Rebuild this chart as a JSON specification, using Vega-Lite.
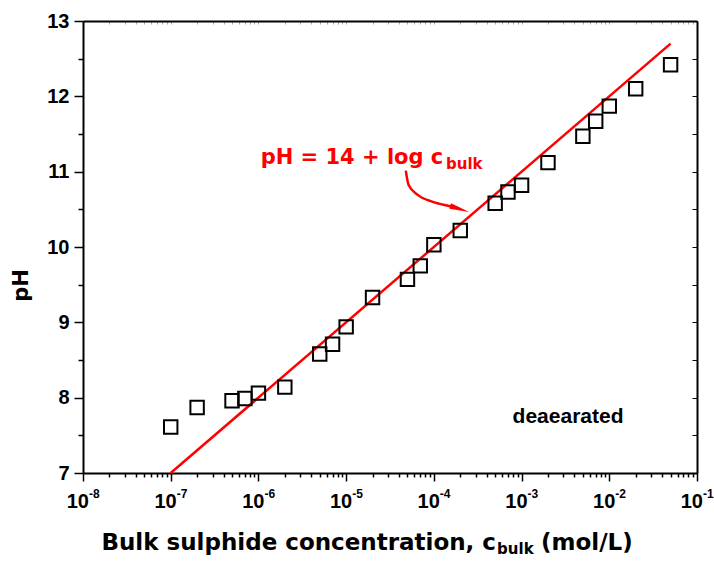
{
  "$schema": "https://vega.github.io/schema/vega-lite/v6.json",
  "width": 614,
  "height": 452,
  "autosize": {"type": "none"},
  "padding": {"left": 83, "top": 21, "right": 17, "bottom": 88},
  "background": "white",
  "config": {"view": {"stroke": null}},
  "datasets": {
    "pts": [
      {"c": 1e-7, "pH": 7.61}, {"c": 2e-7, "pH": 7.87}, {"c": 5e-7, "pH": 7.96}, {"c": 7e-7, "pH": 7.99},
      {"c": 1e-6, "pH": 8.06}, {"c": 2e-6, "pH": 8.14}, {"c": 5e-6, "pH": 8.58}, {"c": 7e-6, "pH": 8.71},
      {"c": 1e-5, "pH": 8.94}, {"c": 2e-5, "pH": 9.33}, {"c": 5e-5, "pH": 9.57}, {"c": 7e-5, "pH": 9.75},
      {"c": 1e-4, "pH": 10.03}, {"c": 2e-4, "pH": 10.22}, {"c": 5e-4, "pH": 10.58}, {"c": 7e-4, "pH": 10.73},
      {"c": 1e-3, "pH": 10.82}, {"c": 2e-3, "pH": 11.12}, {"c": 5e-3, "pH": 11.47}, {"c": 7e-3, "pH": 11.67},
      {"c": 1e-2, "pH": 11.87}, {"c": 2e-2, "pH": 12.10}, {"c": 5e-2, "pH": 12.42}
    ],
    "fit": [{"c": 1e-7, "pH": 7.0}, {"c": 0.05, "pH": 12.699}],
    "arrow": [
      {"c": 4.786e-5, "pH": 11.013, "o": 1},
      {"c": 5.152e-5, "pH": 10.823, "o": 2},
      {"c": 6.607e-5, "pH": 10.689, "o": 3},
      {"c": 9.55e-5, "pH": 10.603, "o": 4},
      {"c": 1.614e-4, "pH": 10.536, "o": 5},
      {"c": 1.95e-4, "pH": 10.51, "o": 6}
    ],
    "head": [{"c": 1.972e-4, "pH": 10.505}],
    "dec": [
      {"c": 1e-8, "b": "10", "e": "-8"}, {"c": 1e-7, "b": "10", "e": "-7"}, {"c": 1e-6, "b": "10", "e": "-6"},
      {"c": 1e-5, "b": "10", "e": "-5"}, {"c": 1e-4, "b": "10", "e": "-4"}, {"c": 1e-3, "b": "10", "e": "-3"},
      {"c": 1e-2, "b": "10", "e": "-2"}, {"c": 1e-1, "b": "10", "e": "-1"}
    ],
    "ann": [{"c": 1.282e-4, "pH": 11.103, "t": "pH = 14 + log c"}],
    "annsub": [{"c": 1.377e-4, "pH": 11.036, "t": "bulk"}],
    "xt": [{"c": 5.105e-4, "pH": 5.983, "t": "Bulk sulphide concentration, c"}],
    "xtsub": [{"c": 5.26e-4, "pH": 5.929, "t": "bulk"}],
    "xtend": [{"c": 1.667e-3, "pH": 5.983, "t": "(mol/L)"}],
    "note": [{"c": 3.388e-3, "pH": 7.663, "t": "deaearated"}]
  },
  "resolve": {"axis": {"x": "independent", "y": "independent"}},
  "layer": [
    {
      "data": {"name": "fit"},
      "mark": {"type": "line", "color": "#ff0000", "strokeWidth": 2.5, "clip": false},
      "encoding": {
        "x": {"field": "c", "type": "quantitative",
          "scale": {"type": "log", "domain": [1e-8, 0.1], "nice": false},
          "axis": {
            "orient": "bottom", "title": null, "grid": false, "labels": false,
            "values": [1e-8,2e-8,3e-8,4e-8,5e-8,6e-8,7e-8,8e-8,9e-8,1e-7,2e-7,3e-7,4e-7,5e-7,6e-7,7e-7,8e-7,9e-7,1e-6,2e-6,3e-6,4e-6,5e-6,6e-6,7e-6,8e-6,9e-6,1e-5,2e-5,3e-5,4e-5,5e-5,6e-5,7e-5,8e-5,9e-5,1e-4,2e-4,3e-4,4e-4,5e-4,6e-4,7e-4,8e-4,9e-4,1e-3,2e-3,3e-3,4e-3,5e-3,6e-3,7e-3,8e-3,9e-3,1e-2,2e-2,3e-2,4e-2,5e-2,6e-2,7e-2,8e-2,9e-2,1e-1],
            "tickSize": {"condition": {"test": "abs(log(datum.value)/LN10 - round(log(datum.value)/LN10)) < 0.01", "value": 8}, "value": 4},
            "tickColor": "black", "tickWidth": 1.5, "domainColor": "black", "domainWidth": 2
          }},
        "y": {"field": "pH", "type": "quantitative",
          "scale": {"domain": [7, 13], "nice": false, "zero": false},
          "axis": {
            "orient": "left", "grid": false,
            "values": [7,7.5,8,8.5,9,9.5,10,10.5,11,11.5,12,12.5,13],
            "labelExpr": "datum.value % 1 == 0 ? format(datum.value, 'd') : ''",
            "labelFont": "Liberation Sans", "labelFontSize": 20, "labelFontWeight": "bold", "labelColor": "black",
            "labelPadding": 5, "labelOverlap": false, "labelFlush": false, "labelBound": false,
            "tickSize": {"condition": {"test": "datum.value % 1 == 0", "value": 9}, "value": 5},
            "tickColor": "black", "tickWidth": 1.5, "domainColor": "black", "domainWidth": 2,
            "title": "pH", "titleFont": "DejaVu Sans", "titleFontSize": 21, "titleFontWeight": "bold", "titleColor": "black",
            "titleAngle": 270, "titleAlign": "center", "titleBaseline": "alphabetic", "titleX": -56, "titleY": 264
          }}
      }
    },
    {
      "data": {"name": "pts"},
      "mark": {"type": "point", "shape": "square", "filled": false, "stroke": "black", "strokeWidth": 2, "size": 180, "opacity": 1},
      "encoding": {
        "x": {"field": "c", "type": "quantitative",
          "axis": {
            "orient": "top", "title": null, "grid": false, "labels": false,
            "values": [1e-8,2e-8,3e-8,4e-8,5e-8,6e-8,7e-8,8e-8,9e-8,1e-7,2e-7,3e-7,4e-7,5e-7,6e-7,7e-7,8e-7,9e-7,1e-6,2e-6,3e-6,4e-6,5e-6,6e-6,7e-6,8e-6,9e-6,1e-5,2e-5,3e-5,4e-5,5e-5,6e-5,7e-5,8e-5,9e-5,1e-4,2e-4,3e-4,4e-4,5e-4,6e-4,7e-4,8e-4,9e-4,1e-3,2e-3,3e-3,4e-3,5e-3,6e-3,7e-3,8e-3,9e-3,1e-2,2e-2,3e-2,4e-2,5e-2,6e-2,7e-2,8e-2,9e-2,1e-1],
            "tickSize": -3, "tickColor": "#aaaaaa", "tickWidth": 1, "domainColor": "black", "domainWidth": 2
          }},
        "y": {"field": "pH", "type": "quantitative",
          "axis": {
            "orient": "right", "title": null, "grid": false, "labels": false,
            "values": [7,7.5,8,8.5,9,9.5,10,10.5,11,11.5,12,12.5,13],
            "tickSize": -5, "tickColor": "black", "tickWidth": 1, "domainColor": "black", "domainWidth": 2
          }}
      }
    },
    {
      "data": {"name": "arrow"},
      "mark": {"type": "line", "color": "#ff0000", "strokeWidth": 2.5, "interpolate": "monotone"},
      "encoding": {
        "x": {"field": "c", "type": "quantitative", "axis": null},
        "y": {"field": "pH", "type": "quantitative", "axis": null},
        "order": {"field": "o"}
      }
    },
    {
      "data": {"name": "head"},
      "mark": {"type": "point", "shape": "M-1,-0.28L1,0L-1,0.28Z", "filled": true, "color": "#ff0000", "size": 400, "angle": 17, "opacity": 1},
      "encoding": {
        "x": {"field": "c", "type": "quantitative", "axis": null},
        "y": {"field": "pH", "type": "quantitative", "axis": null}
      }
    },
    {
      "data": {"name": "dec"},
      "mark": {"type": "text", "align": "right", "baseline": "alphabetic", "dx": 6, "font": "Liberation Sans", "fontSize": 20, "fontWeight": "bold", "color": "black"},
      "encoding": {
        "x": {"field": "c", "type": "quantitative", "axis": null},
        "y": {"datum": 6.533, "type": "quantitative", "axis": null},
        "text": {"field": "b"}
      }
    },
    {
      "data": {"name": "dec"},
      "mark": {"type": "text", "align": "left", "baseline": "alphabetic", "dx": 6, "font": "Liberation Sans", "fontSize": 12, "fontWeight": "bold", "color": "black"},
      "encoding": {
        "x": {"field": "c", "type": "quantitative", "axis": null},
        "y": {"datum": 6.672, "type": "quantitative", "axis": null},
        "text": {"field": "e"}
      }
    },
    {
      "data": {"name": "ann"},
      "mark": {"type": "text", "align": "right", "baseline": "alphabetic", "font": "DejaVu Sans", "fontSize": 21, "fontWeight": "bold", "color": "#ff0000"},
      "encoding": {
        "x": {"field": "c", "type": "quantitative", "axis": null},
        "y": {"field": "pH", "type": "quantitative", "axis": null},
        "text": {"field": "t"}
      }
    },
    {
      "data": {"name": "annsub"},
      "mark": {"type": "text", "align": "left", "baseline": "alphabetic", "font": "DejaVu Sans", "fontSize": 15, "fontWeight": "bold", "color": "#ff0000"},
      "encoding": {
        "x": {"field": "c", "type": "quantitative", "axis": null},
        "y": {"field": "pH", "type": "quantitative", "axis": null},
        "text": {"field": "t"}
      }
    },
    {
      "data": {"name": "xt"},
      "mark": {"type": "text", "align": "right", "baseline": "alphabetic", "font": "DejaVu Sans", "fontSize": 23, "fontWeight": "bold", "color": "black"},
      "encoding": {
        "x": {"field": "c", "type": "quantitative", "axis": null},
        "y": {"field": "pH", "type": "quantitative", "axis": null},
        "text": {"field": "t"}
      }
    },
    {
      "data": {"name": "xtsub"},
      "mark": {"type": "text", "align": "left", "baseline": "alphabetic", "font": "DejaVu Sans", "fontSize": 15, "fontWeight": "bold", "color": "black"},
      "encoding": {
        "x": {"field": "c", "type": "quantitative", "axis": null},
        "y": {"field": "pH", "type": "quantitative", "axis": null},
        "text": {"field": "t"}
      }
    },
    {
      "data": {"name": "xtend"},
      "mark": {"type": "text", "align": "left", "baseline": "alphabetic", "font": "DejaVu Sans", "fontSize": 23, "fontWeight": "bold", "color": "black"},
      "encoding": {
        "x": {"field": "c", "type": "quantitative", "axis": null},
        "y": {"field": "pH", "type": "quantitative", "axis": null},
        "text": {"field": "t"}
      }
    },
    {
      "data": {"name": "note"},
      "mark": {"type": "text", "align": "center", "baseline": "alphabetic", "font": "Liberation Sans", "fontSize": 21, "fontWeight": "bold", "color": "black"},
      "encoding": {
        "x": {"field": "c", "type": "quantitative", "axis": null},
        "y": {"field": "pH", "type": "quantitative", "axis": null},
        "text": {"field": "t"}
      }
    }
  ]
}
